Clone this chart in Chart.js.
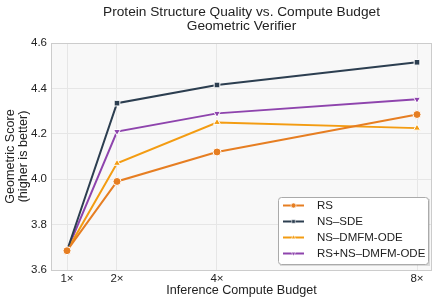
<!DOCTYPE html>
<html><head><meta charset="utf-8">
<script src="https://cdn.jsdelivr.net/npm/chart.js@4.4.1/dist/chart.umd.min.js"></script>
<style>html,body{margin:0;padding:0;background:#fff}#wrap{width:438px;height:302px}</style>
</head><body><div id="wrap"><canvas id="c" width="438" height="302"></canvas></div>
<script>
const budgets = [1, 2, 4, 8];
const tickLabels = ['1×', '2×', '4×', '8×'];
const seriesNames = ['RS', 'NS\u2013SDE', 'NS\u2013DMFM-ODE', 'RS+NS\u2013DMFM-ODE'];
const rsValues = [3.685, 3.99, 4.12, 4.285];
const nsSdeValues = [3.685, 4.335, 4.415, 4.515];
const nsOdeValues = [3.685, 4.07, 4.25, 4.225];
const rsNsOdeValues = [3.685, 4.21, 4.29, 4.352];
const titleLines = ['Protein Structure Quality vs. Compute Budget', 'Geometric Verifier'];
const yTitleLines = ['Geometric Score', '(higher is better)'];
const xTitle = 'Inference Compute Budget';

const FONT = '"Liberation Sans", Arial, sans-serif';
const colors = ['#e67e22', '#2c3e50', '#f39c12', '#8e44ad'];
const styles = ['circle', 'rect', 'triangle', 'triangle'];
const rotations = [0, 0, 0, 180];
const allValues = [rsValues, nsSdeValues, nsOdeValues, rsNsOdeValues];

const datasets = allValues.map((vals, i) => ({
  label: seriesNames[i],
  data: budgets.map((b, j) => ({x: b, y: vals[j]})),
  borderColor: colors[i],
  backgroundColor: colors[i],
  borderWidth: 2,
  pointStyle: styles[i],
  rotation: rotations[i],
  pointRadius: 4,
  pointBorderColor: '#fff',
  pointBorderWidth: 1,
  pointBackgroundColor: colors[i],
  tension: 0
}));

const bgPlugin = {
  id: 'bg',
  beforeDraw(chart) {
    const {ctx, chartArea: a} = chart;
    ctx.save();
    ctx.fillStyle = '#f8f8f8';
    ctx.fillRect(a.left, a.top, a.right - a.left, a.bottom - a.top);
    ctx.restore();
  },
  afterDraw(chart) {
    const {ctx, chartArea: a} = chart;
    ctx.save();
    ctx.strokeStyle = '#cccccc';
    ctx.lineWidth = 1;
    ctx.strokeRect(a.left + 0.5, a.top + 0.5, a.right - a.left - 1, a.bottom - a.top);
    // title
    ctx.fillStyle = '#222';
    ctx.textAlign = 'center';
    ctx.textBaseline = 'middle';
    ctx.font = '13.7px ' + FONT;
    const cx = (a.left + a.right) / 2;
    ctx.fillText(titleLines[0], cx, 12.5);
    ctx.fillText(titleLines[1], cx, 26.5);
    // x title
    ctx.font = '12.6px ' + FONT;
    ctx.fillText(xTitle, cx, 290.5);
    // y title
    ctx.save();
    ctx.translate(11, (a.top + a.bottom) / 2);
    ctx.rotate(-Math.PI / 2);
    ctx.fillText(yTitleLines[0], 0, 0);
    ctx.fillText(yTitleLines[1], 0, 13);
    ctx.restore();
    // legend
    const lx = 278, ly = 197, lw = 150, lh = 67;
    ctx.fillStyle = 'rgba(0,0,0,0.12)';
    ctx.fillRect(lx + 2, ly + 2, lw, lh);
    ctx.fillStyle = '#ffffff';
    ctx.strokeStyle = '#aaaaaa';
    ctx.lineWidth = 1;
    ctx.beginPath();
    if (ctx.roundRect) ctx.roundRect(lx + 0.5, ly + 0.5, lw, lh, 3); else ctx.rect(lx + 0.5, ly + 0.5, lw, lh);
    ctx.fill(); ctx.stroke();
    ctx.font = '11.5px ' + FONT;
    ctx.textAlign = 'left';
    seriesNames.forEach((name, i) => {
      const y = ly + 8.5 + i * 16;
      ctx.strokeStyle = colors[i];
      ctx.lineWidth = 2;
      ctx.beginPath(); ctx.moveTo(lx + 5, y); ctx.lineTo(lx + 26, y); ctx.stroke();
      ctx.fillStyle = colors[i];
      ctx.strokeStyle = '#fff';
      ctx.lineWidth = 0.6;
      Chart.helpers.drawPoint(ctx, {pointStyle: styles[i], rotation: rotations[i], radius: 2.5, borderWidth: 0.6}, lx + 15.5, y);
      ctx.fillStyle = '#222';
      ctx.fillText(name, lx + 39, y + 0.5);
    });
    ctx.restore();
  }
};

new Chart(document.getElementById('c'), {
  type: 'line',
  data: {datasets},
  options: {
    responsive: false,
    animation: false,
    layout: {padding: {top: 43, right: 6, left: 0, bottom: 0}},
    plugins: {legend: {display: false}, title: {display: false}, tooltip: {enabled: false}},
    scales: {
      x: {
        type: 'linear', min: 0.68, max: 8.3,
        afterBuildTicks(s) { s.ticks = budgets.map(v => ({value: v})); },
        afterFit(s) { s.height = 32; },
        ticks: {
          callback: (v) => tickLabels[budgets.indexOf(v)] || '',
          color: '#222', font: {family: FONT, size: 11.5}, padding: 2, maxRotation: 0, autoSkip: false
        },
        grid: {color: '#e6e6e6', drawTicks: false},
        border: {display: false}
      },
      y: {
        min: 3.6, max: 4.6,
        afterFit(s) { s.width = 51; },
        ticks: {
          stepSize: 0.2,
          callback: (v) => Number(v).toFixed(1),
          color: '#222', font: {family: FONT, size: 11.5}, padding: 4
        },
        grid: {color: '#e6e6e6', drawTicks: false},
        border: {display: false}
      }
    }
  },
  plugins: [bgPlugin]
});
</script></body></html>
